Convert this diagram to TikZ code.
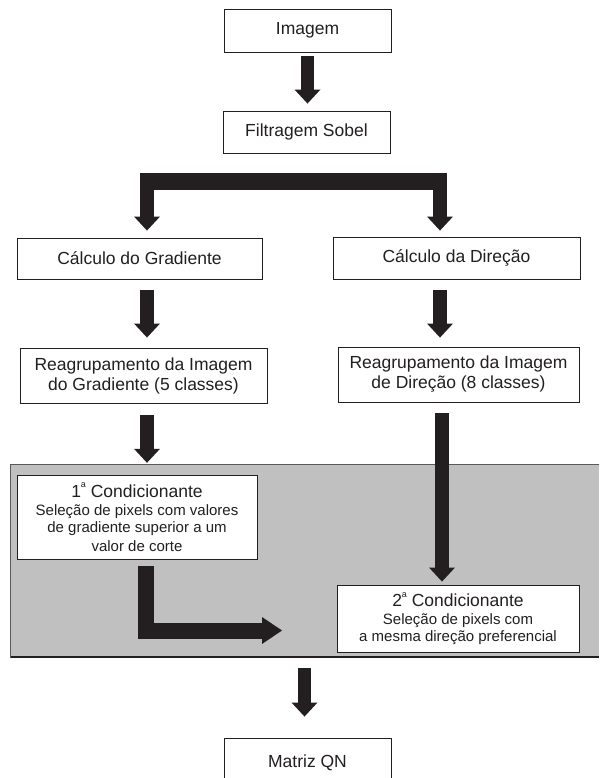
\documentclass[tikz,border=0pt]{standalone}
\usepackage{fontspec}
\setmainfont{Liberation Sans}
\usetikzlibrary{arrows.meta}
\definecolor{ink}{HTML}{231F20}
\definecolor{panelgray}{HTML}{C0C0C0}
\definecolor{panelline}{HTML}{5A5A5A}
\newcommand{\ordsup}[1]{#1\raisebox{0.55em}{\fontsize{9}{9}\selectfont a}}
\begin{document}
\begin{tikzpicture}[x=1pt,y=-1pt,
  box/.style={draw=ink, line width=0.9pt, fill=white, inner sep=0pt,
    font=\fontsize{17.5}{20}\selectfont, text=ink, align=center},
  bigarrow/.style={draw=ink, line width=13.5pt,
    -{Triangle[width=26pt,length=14pt,line width=0pt]}},
  panelbox/.style={fill=panelgray, inner sep=0pt}]
\clip (0,0) rectangle (599,778);
\fill[white] (0,0) rectangle (599,778);
% shaded panel
\node[panelbox, minimum width=588pt, minimum height=193pt] (panel) at (305,561.5) {};
\draw[panelline, line width=1.2pt] (panel.north east) -- (panel.north west) -- (panel.south west);
\draw[ink, line width=2.6pt] ([yshift=1.3pt]panel.south west) -- ([yshift=1.3pt]panel.south east);
% boxes
\node[box, minimum width=167pt, minimum height=43pt] (img) at (307.5,30.5) {Imagem};
\node[box, minimum width=167pt, minimum height=42pt] (sobel) at (306.5,132) {Filtragem Sobel};
\node[box, minimum width=245pt, minimum height=41pt] (grad) at (139.5,258.5) {Cálculo do Gradiente};
\node[box, minimum width=247pt, minimum height=42pt] (dir) at (456.5,258) {Cálculo da Direção};
\node[box, minimum width=247pt, minimum height=55pt] (rgrad) at (143.5,375.5) {Reagrupamento da Imagem\\do Gradiente (5 classes)};
\node[box, minimum width=241pt, minimum height=55pt] (rdir) at (458.5,374.5) {Reagrupamento da Imagem\\de Direção (8 classes)};
\node[box, minimum width=240pt, minimum height=84pt] (cond1) at (137,517)
  {\ordsup{1} Condicionante\\[-2pt]{\fontsize{15}{16.5}\selectfont Seleção de pixels com valores}\\[-3pt]{\fontsize{15}{16.5}\selectfont de gradiente superior a um}\\[-1pt]{\fontsize{15}{16.5}\selectfont valor de corte}};
\node[box, minimum width=242pt, minimum height=67pt] (cond2) at (458,618.5)
  {\ordsup{2} Condicionante\\[-2pt]{\fontsize{15}{16.5}\selectfont Seleção de pixels com}\\[-3pt]{\fontsize{15}{16.5}\selectfont a mesma direção preferencial}};
\node[box, minimum width=167pt, minimum height=50pt] (matriz) at (307.5,763) {Matriz QN};
% guide coordinates
\coordinate (lx) at (147,0);
\coordinate (rx) at (440,0);
\coordinate (rx2) at (442,0);
\coordinate (mx) at (304.5,0);
\coordinate (barL) at (140,181.5);
\coordinate (barR) at (447,181.5);
\coordinate (lcorner) at (146,630.5);
\coordinate (lend) at (282,630.5);
% arrows
\draw[bigarrow, shorten <=4pt, shorten >=7pt] (img.south) -- (img.south |- sobel.north);
\draw[ink, line width=17pt] (barL) -- (barR);
\draw[bigarrow, shorten >=7pt] (lx |- barL) -- (lx |- grad.north);
\draw[bigarrow, shorten >=6pt] (rx |- barR) -- (rx |- dir.north);
\draw[bigarrow, shorten <=11pt, shorten >=10pt] (lx |- grad.south) -- (lx |- rgrad.north);
\draw[bigarrow, shorten <=11pt, shorten >=9pt] (rx |- dir.south) -- (rx |- rdir.north);
\draw[bigarrow, shorten <=12pt, shorten >=2pt] (lx |- rgrad.south) -- (lx |- panel.north);
\draw[bigarrow, shorten <=11pt, shorten >=3pt] (rx2 |- rdir.south) -- (rx2 |- cond2.north);
\draw[draw=ink, line width=16pt, line join=miter, shorten <=7pt,
  -{Triangle[width=27pt,length=20pt,line width=0pt]}]
  (lcorner |- cond1.south) -- (lcorner) -- (lend);
\draw[bigarrow, shorten <=10pt, shorten >=21pt] (mx |- panel.south) -- (mx |- matriz.north);
\end{tikzpicture}
\end{document}
